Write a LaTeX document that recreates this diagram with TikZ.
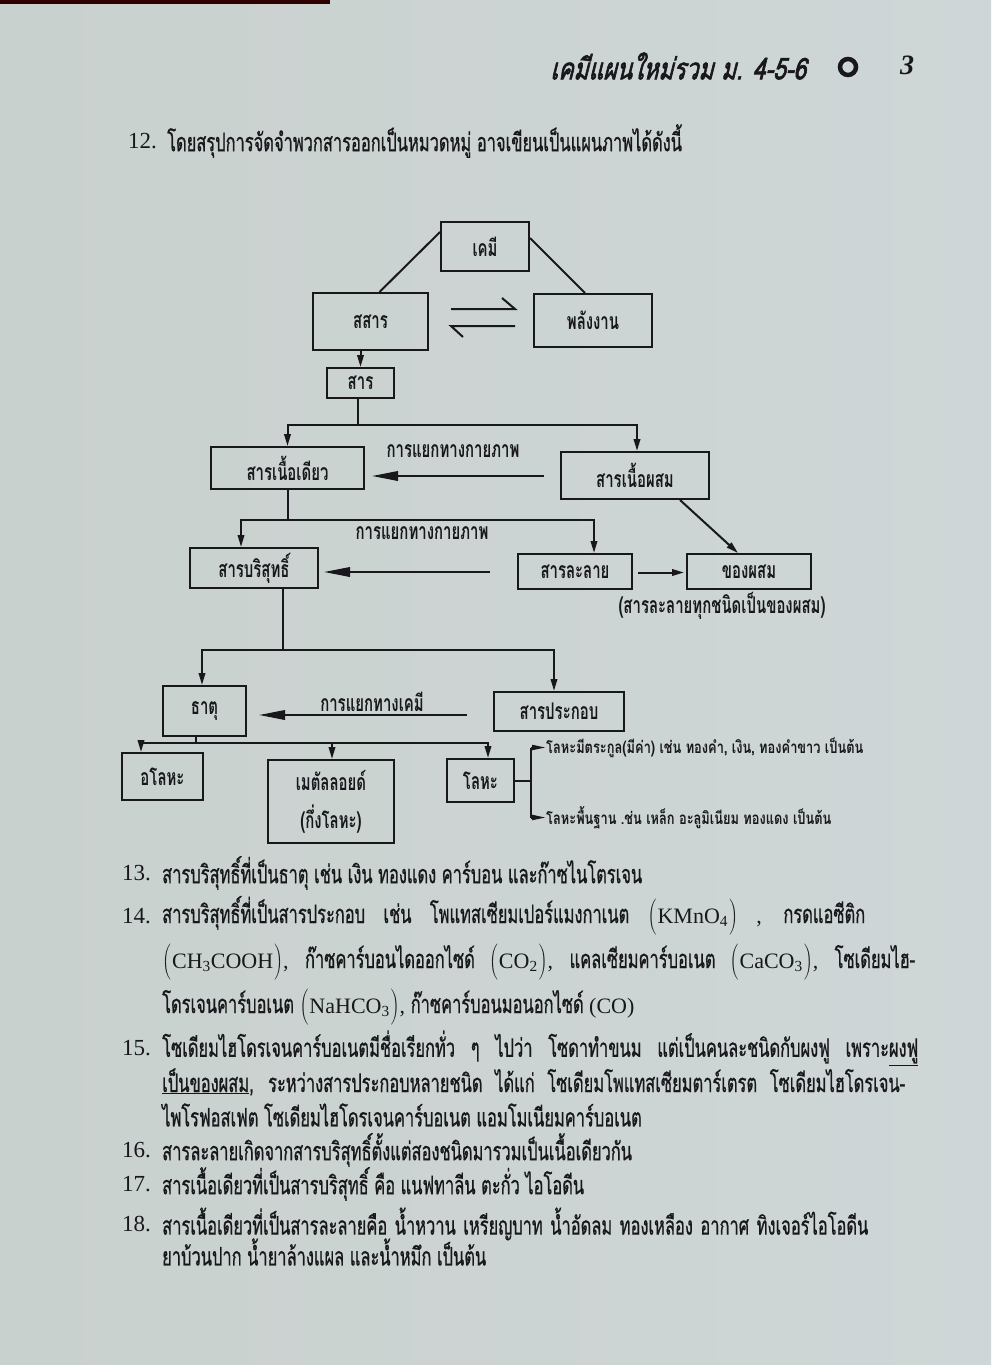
\documentclass[tikz,border=0pt]{standalone}
\usepackage{fontspec}
\usetikzlibrary{arrows.meta,calc}
\newfontfamily\thbody[Script=Thai,FakeStretch=0.645,FakeBold=0.7]{Loma}
\newfontfamily\thbox[Script=Thai,FakeStretch=0.65]{Loma}
\newfontfamily\thnote[Script=Thai,FakeStretch=0.755]{Loma}
\newfontfamily\thhead[Script=Thai,FakeStretch=0.76,AutoFakeSlant=0.25,AutoFakeBold=2]{Loma}
\newfontfamily\lser{Liberation Serif}
\definecolor{paper}{RGB}{201,209,206}
\definecolor{paperB}{RGB}{207,214,215}
\definecolor{ink}{RGB}{24,24,28}
\newcommand{\chf}[1]{{\lser\fontsize{22}{26}\selectfont #1}}
\newcommand{\bp}[1]{$\left(\rule[-13pt]{0pt}{38pt}\right.$\chf{#1}$\left.\rule[-13pt]{0pt}{38pt}\right)$}
\tikzset{
 box/.style={draw=ink,line width=2pt,inner sep=0pt,text=ink,font=\thbox\bfseries\fontsize{23}{26}\selectfont,align=center},
 wire/.style={draw=ink,line width=2pt},
 arr/.style={wire,-{Triangle[length=12pt,width=6.5pt]}},
 bigarr/.style={wire,-{Triangle[length=26pt,width=9.5pt]}},
 lbl/.style={text=ink,font=\thbox\bfseries\fontsize{23}{26}\selectfont,inner sep=0pt},
 body/.style={text=ink,font=\thbody\fontsize{25.5}{30}\selectfont,inner sep=0pt,anchor=west},
 num/.style={text=ink,font=\lser\fontsize{23}{26}\selectfont,inner sep=0pt,anchor=west},
 note/.style={text=ink,font=\thnote\bfseries\fontsize{17}{20}\selectfont,inner sep=0pt,anchor=west},
}
\begin{document}
\begin{tikzpicture}[x=1pt,y=-1pt]
\shade[left color=paper,right color=paperB] (0,0) rectangle (991,1365);
\fill[black!70!red!60!black] (0,0) rectangle (330,4);
\useasboundingbox (0,0) rectangle (991,1365);

% header
\node[text=ink,font=\thhead\bfseries\itshape\fontsize{30}{32}\selectfont,anchor=east,inner sep=0pt] (hdr) at (806,66) {เคมีแผนใหม่รวม ม. 4-5-6};
\node[circle,draw=ink,line width=4.5pt,minimum size=16,inner sep=0pt] (ring) at (848,67) {};
\node[text=ink,font=\lser\bfseries\itshape\fontsize{28}{30}\selectfont,inner sep=0pt] (pg) at (907,65) {3};

\node[num] (n12) at (128,141) {12.};
\node[body] (t12) at (167,141) {โดยสรุปการจัดจำพวกสารออกเป็นหมวดหมู่ อาจเขียนเป็นแผนภาพได้ดังนี้};

% diagram boxes
\node[box,minimum width=88,minimum height=49] (chem) at (485,246.5) {เคมี};
\node[box,minimum width=115,minimum height=57] (matter) at (370.5,321.5) {สสาร};
\node[box,minimum width=118,minimum height=53] (energy) at (593,320.5) {พลังงาน};
\node[box,minimum width=67,minimum height=30] (sub) at (360.5,383) {สาร};
\node[box,minimum width=153,minimum height=42] (homo) at (287.5,468) {สารเนื้อเดียว};
\node[box,minimum width=148,minimum height=47] (hetero) at (635,475.5) {สารเนื้อผสม};
\node[box,minimum width=128,minimum height=40] (pure) at (254,568) {สารบริสุทธิ์};
\node[box,minimum width=114,minimum height=35] (sol) at (575,571.5) {สารละลาย};
\node[box,minimum width=124,minimum height=35] (mix) at (749,571.5) {ของผสม};
\node[box,minimum width=83,minimum height=50] (elem) at (204.5,711) {ธาตุ};
\node[box,minimum width=130,minimum height=39] (comp) at (559,711.5) {สารประกอบ};
\node[box,minimum width=81,minimum height=47] (nonm) at (162.5,776.5) {อโลหะ};
\node[box,minimum width=126,minimum height=83] (metl) at (331,801.5) {เมตัลลอยด์\\[12pt](กึ่งโลหะ)};
\node[box,minimum width=67,minimum height=43] (metal) at (480.5,780.5) {โลหะ};

% top connectors
\draw[wire] ([yshift=-11pt]chem.north west) -- ([xshift=9pt]matter.north);
\draw[wire] ([yshift=-17pt]chem.north east) -- ([xshift=-8pt]energy.north);
\coordinate (eqA) at (451,309);
\coordinate (eqB) at (515,309);
\coordinate (eqC) at (451,326);
\coordinate (eqD) at (515,326);
\draw[wire] (eqA) -- (eqB) -- ++(-13,-11);
\draw[wire] (eqD) -- (eqC) -- ++(12,11);
\draw[arr] (matter.south -| sub.north) -- (sub.north);

% level: homo / hetero
\coordinate (j1) at ($(sub.south)+(-3,26)$);
\draw[wire] (sub.south -| j1) -- (j1);
\draw[arr] (j1) -| (homo.north);
\draw[arr] (j1) -| ([xshift=2pt]hetero.north);
\node[lbl] (L1) at (453,451) {การแยกทางกายภาพ};
\draw[bigarr] ([xshift=-16pt,yshift=-0.5pt]hetero.west) -- ([xshift=7pt,yshift=-8pt]homo.east);
\draw[arr] ([xshift=45pt]hetero.south) -- ([xshift=-11pt]mix.north);

% level: pure / solution
\coordinate (j2) at ($(homo.south)+(0,30)$);
\draw[wire] (homo.south) -- (j2);
\draw[arr] (j2) -| ([xshift=-13pt]pure.north);
\draw[arr] (j2) -| ([xshift=19pt]sol.north);
\node[lbl] (L2) at (422,533) {การแยกทางกายภาพ};
\draw[bigarr] ([xshift=-27pt,yshift=-0.5pt]sol.west) -- ([xshift=5pt,yshift=-4pt]pure.east);
\draw[arr] ([xshift=5pt,yshift=-1pt]sol.east) -- ([xshift=-2pt,yshift=-1pt]mix.west);
\node[lbl,anchor=center] (N1) at (722,606) {(สารละลายทุกชนิดเป็นของผสม)};

% level: element / compound
\coordinate (j3) at ($(pure.south)+(29,61)$);
\draw[wire] (pure.south -| j3) -- (j3);
\draw[arr] (j3) -| ([xshift=-2.5pt]elem.north);
\draw[arr] (j3) -| ([xshift=-5pt]comp.north);
\node[lbl] (L3) at (372,702) {การแยกทางเคมี};
\draw[bigarr] ([xshift=-26pt,yshift=-3.5pt]comp.west) -- ([xshift=12pt,yshift=-4pt]elem.east);

% level: non-metal / metalloid / metal
\coordinate (j4) at ($(elem.south)+(-9,6)$);
\draw[wire] (elem.south -| j4) -- (j4);
\draw[arr] (j4) -| ([xshift=-21.5pt]nonm.north);
\draw[arr] (j4) -| ([xshift=1pt]metl.north);
\draw[arr] (j4) -| ([xshift=7.5pt]metal.north);
\coordinate (j5) at ($(metal.east)+(16,0)$);
\coordinate (m1) at ($(j5)+(0,-33)$);
\coordinate (m2) at ($(j5)+(0,37)$);
\draw[wire] (metal.east) -- (j5);
\draw[wire] (m1) -- (m2);
\node[note] (T1) at ($(m1)+(15,0)$) {โลหะมีตระกูล(มีค่า) เช่น ทองคำ, เงิน, ทองคำขาว เป็นต้น};
\node[note] (T2) at ($(m2)+(15,0)$) {โลหะพื้นฐาน  .ช่น เหล็ก อะลูมิเนียม ทองแดง เป็นต้น};
\draw[wire,-{Triangle[length=14pt,width=5pt]}] (m1) -- (T1.west);
\draw[wire,-{Triangle[length=14pt,width=5pt]}] (m2) -- (T2.west);

% body text
\node[num] (n13) at (122,873) {13.};
\node[body] (t13) at (162,873) {สารบริสุทธิ์ที่เป็นธาตุ เช่น เงิน ทองแดง คาร์บอน และก๊าซไนโตรเจน};
\node[num] (n14) at (122,916) {14.};
\node[body] (t14a) at (162,916) {\makebox[703pt][s]{สารบริสุทธิ์ที่เป็นสารประกอบ เช่น โพแทสเซียมเปอร์แมงกาเนต \bp{KMnO\textsubscript{4}} \chf{,} กรดแอซีติก}};
\node[body] (t14b) at (162,962) {\makebox[753pt][s]{\bp{CH\textsubscript{3}COOH}\chf{,} ก๊าซคาร์บอนไดออกไซด์ \bp{CO\textsubscript{2}}\chf{,} แคลเซียมคาร์บอเนต \bp{CaCO\textsubscript{3}}\chf{,} โซเดียมไฮ-}};
\node[body] (t14c) at (162,1007) {โดรเจนคาร์บอเนต \bp{NaHCO\textsubscript{3}}\chf{,} ก๊าซคาร์บอนมอนอกไซด์ \chf{(CO)}};
\node[num] (n15) at (122,1048) {15.};
\node[body] (t15a) at (162,1048) {\makebox[756pt][s]{โซเดียมไฮโดรเจนคาร์บอเนตมีชื่อเรียกทั่ว ๆ ไปว่า โซดาทำขนม แต่เป็นคนละชนิดกับผงฟู เพราะ\underline{ผงฟู}}};
\node[body] (t15b) at (162,1082) {\makebox[743pt][s]{\underline{เป็นของผสม}, ระหว่างสารประกอบหลายชนิด ได้แก่ โซเดียมโพแทสเซียมตาร์เตรต โซเดียมไฮโดรเจน-}};
\node[body] (t15c) at (162,1115) {ไพโรฟอสเฟต โซเดียมไฮโดรเจนคาร์บอเนต แอมโมเนียมคาร์บอเนต};
\node[num] (n16) at (122,1150) {16.};
\node[body] (t16) at (162,1150) {สารละลายเกิดจากสารบริสุทธิ์ตั้งแต่สองชนิดมารวมเป็นเนื้อเดียวกัน};
\node[num] (n17) at (122,1184) {17.};
\node[body] (t17) at (162,1184) {สารเนื้อเดียวที่เป็นสารบริสุทธิ์ คือ แนฟทาลีน ตะกั่ว ไอโอดีน};
\node[num] (n18) at (122,1224) {18.};
\node[body] (t18a) at (162,1224) {\makebox[706pt][s]{สารเนื้อเดียวที่เป็นสารละลายคือ น้ำหวาน เหรียญบาท น้ำอัดลม ทองเหลือง อากาศ ทิงเจอร์ไอโอดีน}};
\node[body] (t18b) at (162,1252) {ยาบ้วนปาก น้ำยาล้างแผล และน้ำหมึก เป็นต้น};
\end{tikzpicture}
\end{document}
